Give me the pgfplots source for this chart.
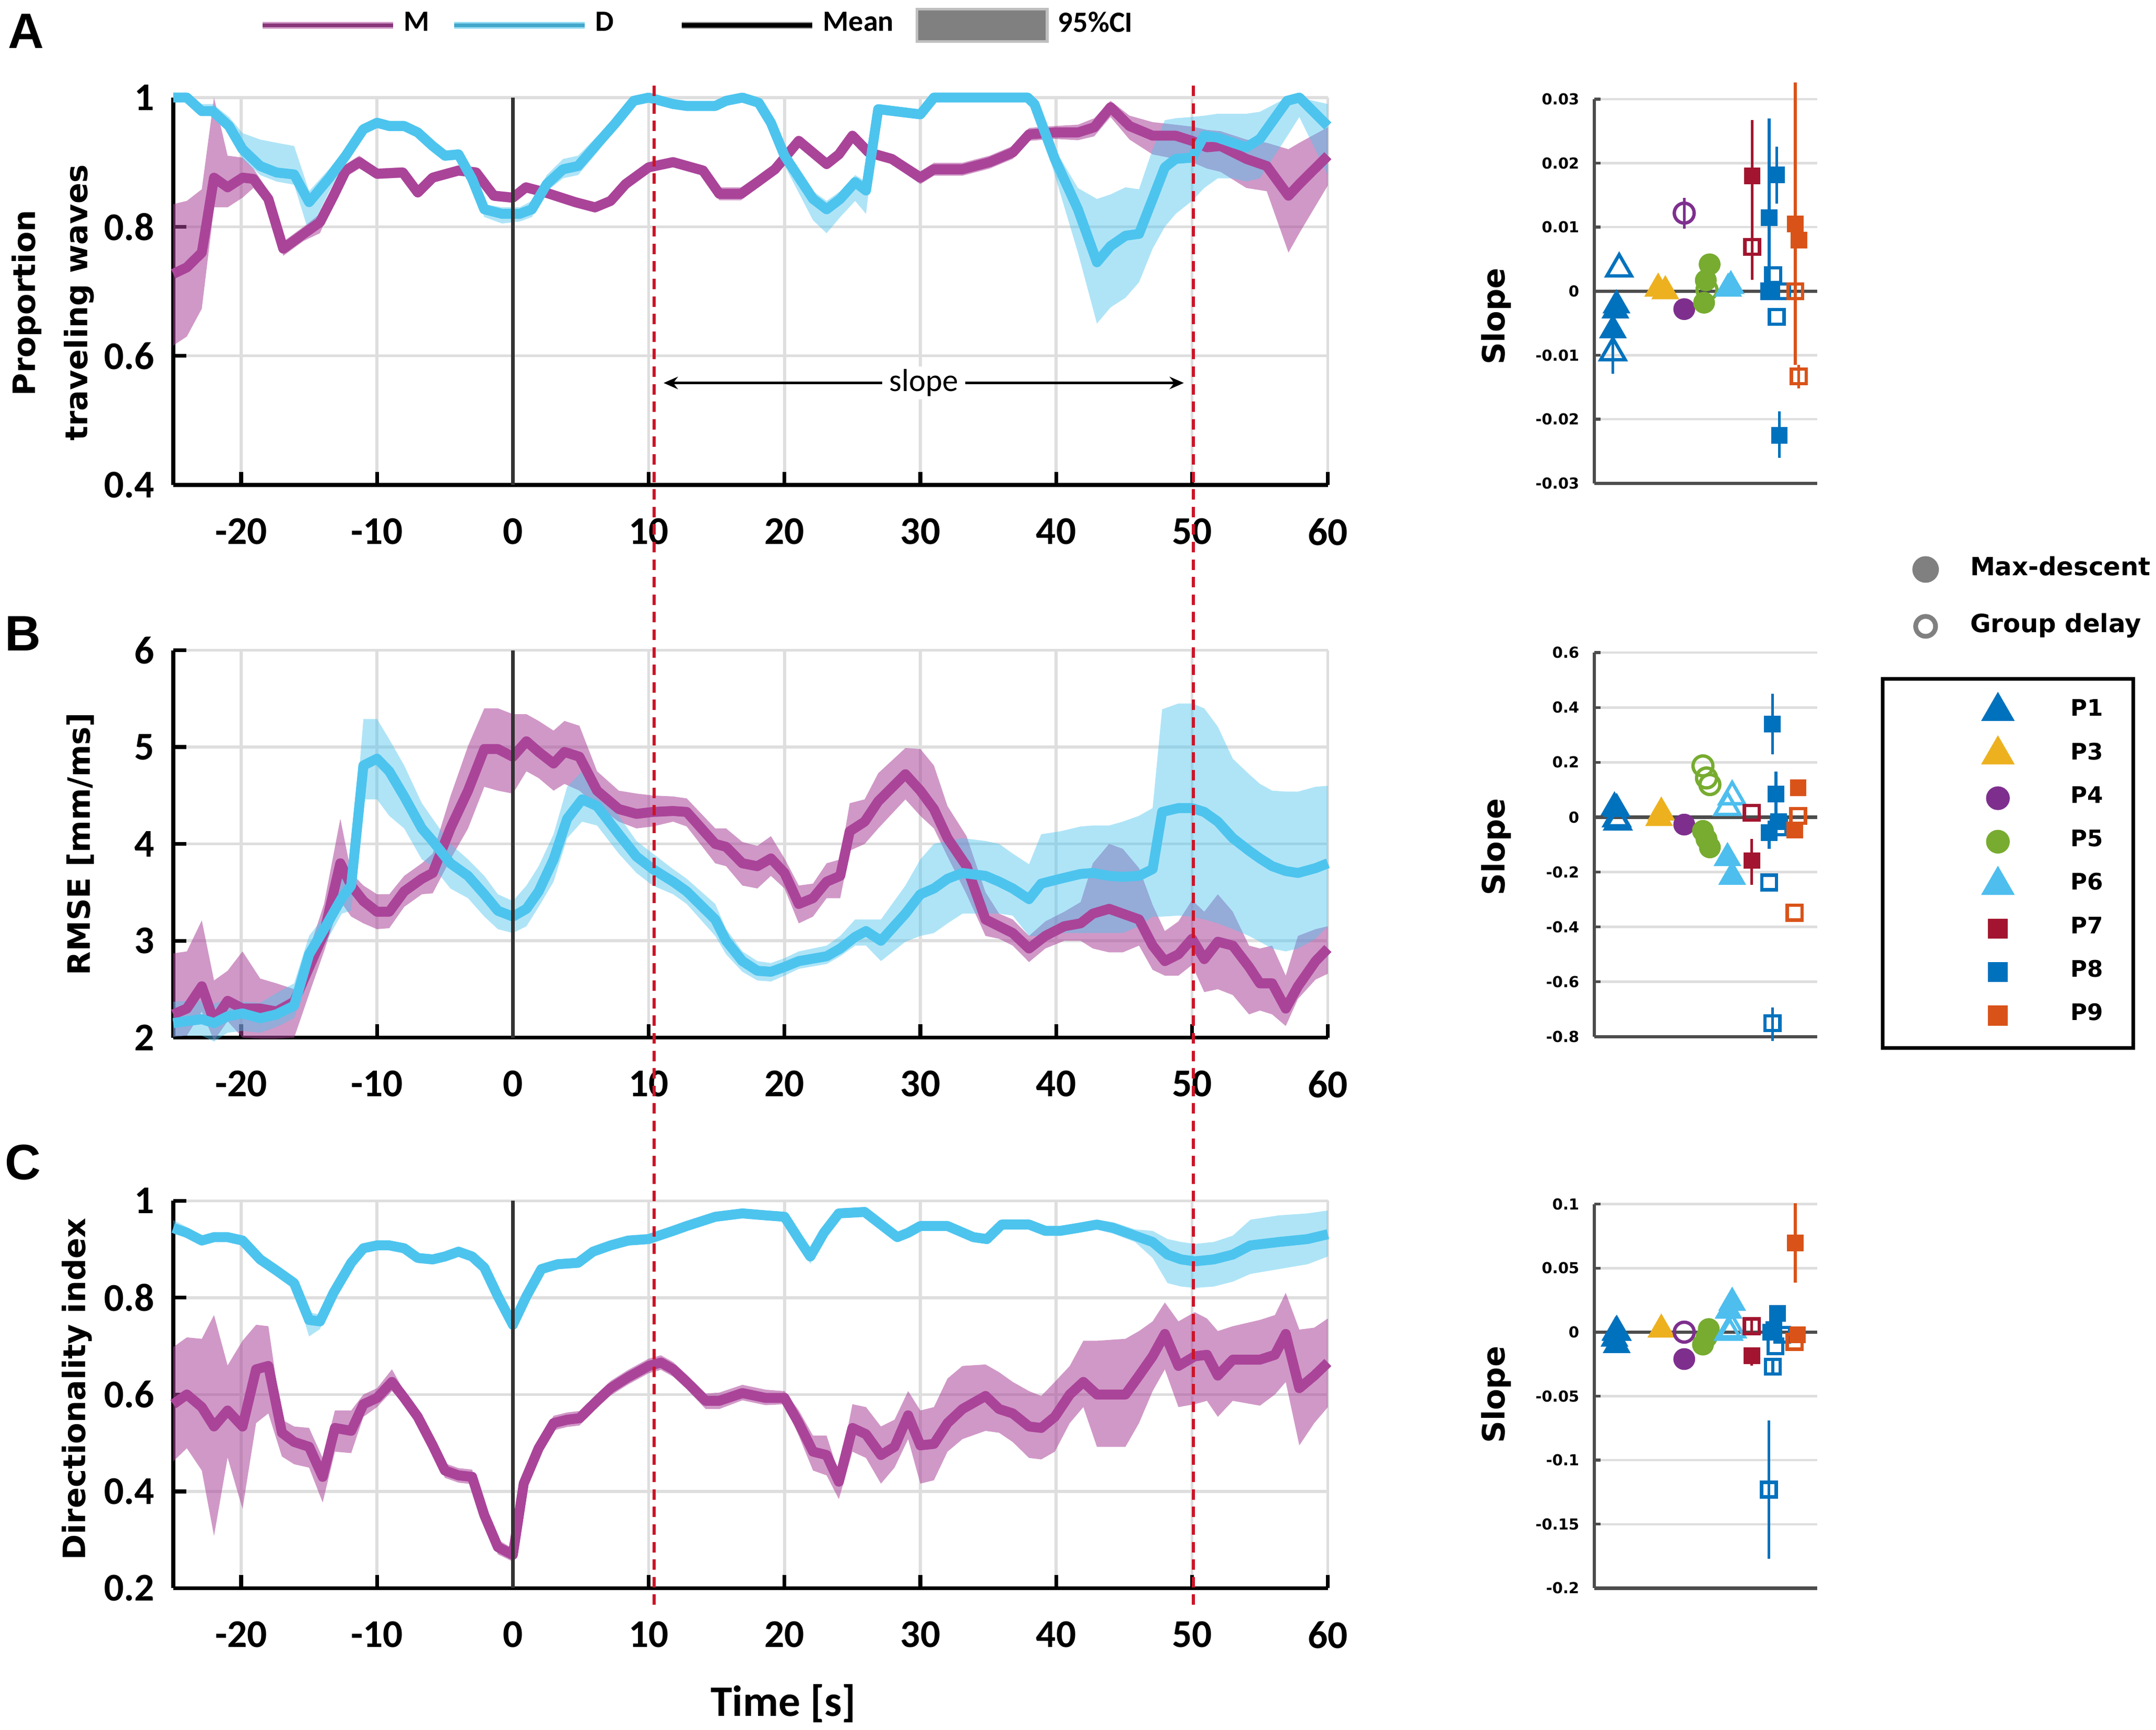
\documentclass[border=0pt]{standalone}
\usepackage{fontspec}
\setmainfont{Carlito}
\newfontfamily\dvs{DejaVu Sans}
\newfontfamily\lib{Liberation Sans}
\usepackage{pgfplots}
\usepackage{pgfplotstable}
\pgfplotsset{compat=1.18}
\usepgfplotslibrary{fillbetween}
\usetikzlibrary{arrows.meta}

\definecolor{Mc}{RGB}{170,68,153}
\definecolor{Dc}{RGB}{77,196,238}
\definecolor{Pone}{RGB}{0,114,189}
\definecolor{Pthree}{RGB}{237,177,32}
\definecolor{Pfour}{RGB}{126,47,142}
\definecolor{Pfive}{RGB}{119,172,48}
\definecolor{Psix}{RGB}{77,190,238}
\definecolor{Pseven}{RGB}{162,20,47}
\definecolor{Peight}{RGB}{0,114,189}
\definecolor{Pnine}{RGB}{217,83,25}
\definecolor{redline}{RGB}{204,20,40}
\definecolor{gridc}{RGB}{222,222,222}
\definecolor{cigray}{RGB}{128,128,128}

% ---------- panel A: proportion traveling waves ----------
\pgfplotstableread{
t v lo hi
-25 0.727 0.616 0.835
-24 0.737 0.630 0.840
-22.9 0.760 0.673 0.858
-22 0.876 0.830 1.000
-21 0.861 0.830 0.910
-19.9 0.876 0.845 0.907
-19.1 0.874 0.860 0.890
-18 0.843 0.832 0.855
-16.9 0.766 0.755 0.777
-15.4 0.789 0.778 0.800
-14.2 0.807 0.790 0.820
-13.2 0.848 0.838 0.860
-12.3 0.887 0.877 0.897
-11.3 0.900 0.890 0.910
-10 0.882 0.874 0.890
-8.1 0.884 0.876 0.892
-7 0.853 0.845 0.861
-5.9 0.876 0.868 0.884
-4 0.887 0.879 0.895
-2.7 0.884 0.876 0.892
-1.4 0.848 0.840 0.856
0 0.845 0.837 0.853
0.96 0.861 0.853 0.869
2.4 0.853 0.845 0.861
4.6 0.838 0.830 0.846
6.05 0.830 0.822 0.838
7.2 0.840 0.832 0.848
8.3 0.866 0.858 0.874
10 0.892 0.884 0.900
11.8 0.900 0.892 0.908
14 0.887 0.879 0.895
15.2 0.851 0.841 0.861
16.8 0.851 0.841 0.861
18 0.869 0.860 0.878
19.3 0.889 0.880 0.898
21.05 0.933 0.925 0.941
23.1 0.897 0.889 0.905
24 0.912 0.904 0.920
25 0.941 0.933 0.949
26.2 0.915 0.907 0.923
27.9 0.905 0.897 0.913
30 0.876 0.866 0.886
31 0.889 0.879 0.899
33.1 0.889 0.879 0.899
35.1 0.900 0.890 0.910
36.8 0.915 0.905 0.925
38 0.943 0.933 0.953
39.9 0.946 0.936 0.956
41.6 0.946 0.934 0.958
42.8 0.954 0.940 0.968
44 0.985 0.970 0.995
45.4 0.956 0.935 0.972
47.1 0.941 0.912 0.962
48.8 0.941 0.905 0.958
50 0.933 0.900 0.955
51.1 0.923 0.890 0.950
52.1 0.925 0.885 0.948
54 0.905 0.860 0.935
55.5 0.894 0.855 0.930
57.1 0.848 0.760 0.920
57.9 0.866 0.790 0.930
60 0.910 0.864 0.954
}\AM

\pgfplotstableread{
t v lo hi
-25 1.000 0.994 1.000
-24 1.000 0.994 1.000
-22.9 0.979 0.972 0.990
-22.1 0.979 0.972 0.990
-20.9 0.956 0.945 0.970
-19.9 0.920 0.905 0.945
-18.6 0.894 0.880 0.935
-17.4 0.884 0.870 0.930
-16.1 0.881 0.865 0.925
-15 0.838 0.790 0.855
-13.5 0.876 0.855 0.890
-12.3 0.910 0.900 0.922
-11 0.951 0.943 0.959
-10 0.961 0.953 0.969
-9.1 0.956 0.948 0.964
-8 0.956 0.948 0.964
-7 0.946 0.938 0.954
-5.9 0.925 0.917 0.933
-5 0.910 0.902 0.918
-4 0.912 0.904 0.920
-3 0.874 0.866 0.882
-2.1 0.827 0.815 0.835
-0.8 0.820 0.805 0.830
0.5 0.820 0.808 0.830
1.4 0.827 0.815 0.840
2.5 0.866 0.855 0.880
3.7 0.889 0.875 0.905
4.8 0.894 0.880 0.910
6.2 0.928 0.915 0.940
7.5 0.959 0.950 0.968
8.9 0.995 0.990 1.000
10 1.000 0.995 1.000
11.8 0.990 0.984 0.996
12.8 0.987 0.981 0.993
14.9 0.987 0.981 0.993
15.7 0.995 0.989 1.000
16.9 1.000 0.994 1.000
18.1 0.992 0.986 0.998
19 0.961 0.953 0.969
20 0.910 0.895 0.920
22.1 0.843 0.810 0.855
23.1 0.827 0.790 0.840
24.1 0.843 0.815 0.855
25.2 0.869 0.840 0.880
26 0.856 0.820 0.870
26.9 0.982 0.975 0.990
30 0.974 0.967 0.981
31 1.000 0.994 1.000
37.9 1.000 0.994 1.000
38.4 0.990 0.984 0.996
39.9 0.905 0.880 0.920
41.6 0.827 0.760 0.860
43 0.745 0.650 0.843
44 0.770 0.675 0.850
45.1 0.786 0.690 0.861
46.1 0.789 0.714 0.858
47.1 0.843 0.766 0.920
48 0.892 0.800 0.965
48.8 0.905 0.820 0.968
50 0.907 0.840 0.970
50.9 0.941 0.860 0.972
51.9 0.938 0.875 0.975
53 0.930 0.875 0.975
54 0.923 0.870 0.975
55 0.936 0.875 0.978
57 0.995 0.940 1.000
57.9 1.000 0.970 1.000
60 0.956 0.880 0.990
}\AD

% ---------- panel B: RMSE ----------
\pgfplotstableread{
t v lo hi
-25 2.24 2.01 2.87
-24 2.30 2.02 2.89
-22.9 2.53 2.27 3.21
-22 2.17 1.97 2.59
-21 2.38 2.17 2.69
-19.9 2.30 2.00 2.89
-18.6 2.30 1.99 2.61
-17.4 2.27 1.99 2.56
-16.1 2.37 2.00 2.50
-14.8 2.79 2.53 2.99
-13.9 3.08 2.89 3.38
-12.7 3.80 3.41 4.26
-11.9 3.57 3.25 3.70
-11 3.41 3.18 3.57
-10 3.30 3.12 3.48
-9.1 3.30 3.13 3.48
-8 3.51 3.35 3.67
-6.7 3.64 3.48 3.80
-5.9 3.70 3.49 3.90
-4.6 4.16 3.84 4.49
-3.3 4.55 4.16 5.01
-2.1 4.98 4.59 5.40
-1.1 4.98 4.55 5.40
0 4.90 4.52 5.34
1 5.06 4.75 5.34
1.9 4.95 4.68 5.27
3 4.83 4.55 5.17
3.8 4.95 4.62 5.27
4.9 4.90 4.55 5.22
6.2 4.55 4.39 4.75
7.8 4.36 4.23 4.55
9.1 4.31 4.16 4.52
10.3 4.33 4.18 4.50
11.8 4.34 4.23 4.49
12.8 4.33 4.18 4.47
14.9 4.00 3.80 4.16
15.7 3.97 3.77 4.16
16.9 3.80 3.57 4.02
18 3.77 3.54 3.98
19 3.85 3.67 4.08
20 3.70 3.54 3.85
21.05 3.38 3.18 3.57
22.1 3.44 3.25 3.59
23.1 3.61 3.44 3.80
24.1 3.67 3.44 3.84
24.8 4.13 3.93 4.42
25.9 4.23 4.00 4.46
26.9 4.44 4.16 4.73
28.9 4.72 4.46 4.99
30 4.55 4.29 4.98
31 4.36 4.16 4.81
32 4.06 3.87 4.39
33.4 3.77 3.48 4.08
34.8 3.22 3.05 3.50
35.8 3.15 3.02 3.28
36.8 3.08 2.95 3.22
38 2.92 2.78 3.05
39.2 3.05 2.92 3.20
40.6 3.15 3.00 3.30
41.8 3.18 3.00 3.40
42.7 3.28 2.92 3.80
43.9 3.33 2.88 4.00
44.9 3.28 2.88 3.95
46.1 3.22 2.95 3.75
47.1 2.95 2.70 3.37
48 2.79 2.64 3.10
49 2.86 2.64 3.20
50 3.02 2.75 3.42
50.9 2.81 2.47 3.30
51.9 2.99 2.50 3.48
53 2.95 2.44 3.30
54.2 2.73 2.24 2.95
55 2.56 2.28 2.92
55.9 2.56 2.24 2.95
56.9 2.30 2.12 2.64
57.8 2.53 2.40 3.05
59.1 2.79 2.60 3.12
60 2.92 2.66 3.15
}\BM

\pgfplotstableread{
t v lo hi
-25 2.15 2.01 2.37
-24 2.17 2.02 2.38
-22.9 2.19 2.02 2.38
-22 2.15 1.96 2.35
-21 2.22 2.05 2.40
-19.9 2.25 2.07 2.37
-18.6 2.20 2.05 2.36
-17.4 2.24 2.11 2.46
-16.1 2.33 2.20 2.56
-15 2.86 2.66 3.05
-13.9 3.12 2.95 3.25
-12.6 3.44 3.28 3.67
-11.9 3.57 3.31 3.74
-11 4.81 4.46 5.29
-10 4.88 4.46 5.29
-9.1 4.75 4.29 5.08
-8 4.49 4.16 4.81
-6.7 4.16 3.84 4.42
-5.9 4.03 3.77 4.26
-4.6 3.80 3.54 4.00
-3.3 3.67 3.44 3.84
-2.1 3.48 3.25 3.67
-1.1 3.31 3.12 3.48
0 3.25 3.08 3.41
1 3.33 3.15 3.57
1.9 3.51 3.35 3.77
3 3.84 3.61 4.10
4 4.26 4.06 4.59
5.1 4.46 4.23 4.75
6.2 4.39 4.19 4.65
7.8 4.10 3.90 4.29
9.1 3.87 3.70 4.03
10.3 3.74 3.57 3.90
11.8 3.61 3.48 3.74
12.8 3.51 3.38 3.64
14.9 3.22 3.05 3.38
15.7 3.00 2.86 3.12
16.9 2.79 2.68 2.89
18 2.69 2.59 2.79
19 2.68 2.58 2.77
20 2.73 2.64 2.82
21.05 2.79 2.71 2.89
23.1 2.84 2.76 2.95
24.1 2.92 2.84 3.05
25.2 3.04 2.95 3.22
26 3.10 2.95 3.22
27.1 3.00 2.79 3.22
28.9 3.28 2.99 3.57
30 3.48 3.05 3.84
31 3.54 3.08 4.00
32 3.64 3.18 4.03
33.1 3.70 3.28 4.06
34.8 3.67 3.28 4.03
35.8 3.61 3.28 4.00
36.8 3.54 3.26 3.90
38 3.43 3.05 3.79
38.9 3.59 3.05 4.10
40.3 3.64 3.08 4.13
41.8 3.69 3.08 4.18
42.7 3.70 3.08 4.19
43.9 3.67 3.08 4.19
44.9 3.66 3.08 4.23
46.1 3.67 3.15 4.29
47.1 3.74 3.25 4.37
47.8 4.33 3.25 5.39
49 4.37 3.26 5.45
50 4.37 3.25 5.45
50.9 4.33 3.22 5.40
51.9 4.23 3.18 5.21
53 4.06 3.12 4.88
54.2 3.93 3.05 4.72
55 3.85 2.99 4.62
55.9 3.77 2.92 4.55
56.9 3.72 2.89 4.54
57.8 3.70 2.92 4.54
59.1 3.75 3.02 4.59
60 3.80 3.15 4.60
}\BD

% ---------- panel C: directionality index ----------
\pgfplotstableread{
t v lo hi
-25 0.580 0.462 0.698
-24 0.600 0.489 0.718
-22.9 0.574 0.443 0.715
-22 0.534 0.308 0.764
-21 0.567 0.470 0.660
-19.9 0.534 0.364 0.711
-18.9 0.652 0.541 0.744
-18 0.659 0.561 0.741
-17 0.521 0.472 0.548
-16.1 0.502 0.456 0.534
-15 0.492 0.449 0.531
-14 0.430 0.377 0.469
-13.1 0.531 0.482 0.567
-11.9 0.525 0.479 0.567
-11 0.580 0.554 0.600
-10 0.593 0.574 0.613
-8.9 0.626 0.607 0.652
-8 0.593 0.580 0.607
-7 0.554 0.539 0.569
-5.9 0.495 0.480 0.510
-5 0.443 0.428 0.458
-4 0.433 0.418 0.448
-3 0.430 0.415 0.445
-2.1 0.351 0.336 0.366
-1.1 0.285 0.270 0.300
0 0.269 0.255 0.282
0.8 0.416 0.401 0.431
1.9 0.489 0.474 0.504
3 0.541 0.526 0.556
4 0.548 0.533 0.563
4.9 0.551 0.536 0.566
6.2 0.587 0.572 0.602
7.2 0.613 0.598 0.628
8.5 0.636 0.621 0.651
10 0.659 0.644 0.674
10.9 0.666 0.651 0.681
11.8 0.652 0.637 0.667
12.8 0.626 0.611 0.641
14.2 0.587 0.570 0.602
15.2 0.587 0.570 0.604
16.9 0.603 0.588 0.620
18.6 0.593 0.578 0.610
20 0.593 0.580 0.607
21.05 0.541 0.515 0.567
22.1 0.482 0.443 0.515
23.1 0.475 0.433 0.515
24 0.420 0.384 0.436
25 0.531 0.482 0.580
26 0.518 0.469 0.574
27.1 0.475 0.416 0.534
28.1 0.492 0.449 0.548
29.1 0.557 0.508 0.607
30 0.495 0.416 0.567
31 0.498 0.423 0.574
32 0.541 0.482 0.633
33.1 0.570 0.508 0.659
34.8 0.597 0.525 0.662
35.8 0.570 0.521 0.646
36.8 0.561 0.502 0.626
38 0.534 0.469 0.607
38.9 0.531 0.466 0.597
39.9 0.554 0.482 0.626
41 0.600 0.541 0.659
42 0.626 0.574 0.711
43 0.600 0.492 0.711
45.1 0.600 0.492 0.715
46.1 0.639 0.541 0.731
47.1 0.679 0.607 0.751
48 0.725 0.652 0.790
49 0.659 0.574 0.751
50.2 0.679 0.580 0.770
51.1 0.682 0.587 0.757
51.9 0.639 0.554 0.731
53 0.672 0.587 0.741
55 0.672 0.577 0.754
56.1 0.682 0.600 0.764
56.9 0.725 0.626 0.810
57.9 0.613 0.495 0.734
59 0.639 0.541 0.738
60 0.666 0.574 0.757
}\CM

\pgfplotstableread{
t v lo hi
-25 0.944 0.932 0.960
-24 0.934 0.924 0.946
-22.9 0.918 0.908 0.928
-22 0.925 0.915 0.935
-21 0.925 0.915 0.935
-19.9 0.918 0.908 0.928
-18.6 0.879 0.869 0.889
-17.4 0.856 0.846 0.866
-16.1 0.830 0.820 0.842
-15 0.754 0.720 0.770
-14.2 0.751 0.735 0.765
-13.2 0.810 0.800 0.820
-11.9 0.872 0.862 0.882
-11 0.902 0.892 0.912
-10 0.908 0.898 0.918
-9.1 0.908 0.898 0.918
-8 0.902 0.892 0.912
-7 0.882 0.872 0.892
-5.9 0.879 0.869 0.889
-5 0.885 0.875 0.895
-4 0.895 0.885 0.905
-3 0.885 0.875 0.895
-2.1 0.862 0.852 0.872
-1.1 0.803 0.793 0.813
0 0.744 0.730 0.756
1 0.803 0.793 0.813
2.1 0.859 0.849 0.869
3.3 0.869 0.859 0.879
4.8 0.872 0.862 0.882
5.9 0.895 0.885 0.905
7.2 0.908 0.898 0.918
8.5 0.918 0.908 0.928
10 0.921 0.911 0.931
11.8 0.938 0.928 0.948
12.8 0.948 0.938 0.958
14.9 0.967 0.957 0.977
16.9 0.974 0.964 0.984
18.6 0.970 0.960 0.980
20 0.967 0.957 0.977
21.05 0.921 0.911 0.931
21.9 0.885 0.870 0.895
22.9 0.934 0.924 0.944
24 0.974 0.964 0.984
25.9 0.977 0.967 0.987
27.1 0.951 0.941 0.961
28.3 0.925 0.915 0.935
29.1 0.934 0.924 0.944
30 0.948 0.938 0.958
32 0.948 0.938 0.958
33.9 0.925 0.915 0.935
34.9 0.921 0.911 0.931
36 0.951 0.941 0.961
38 0.951 0.941 0.961
39.2 0.938 0.928 0.948
40.3 0.938 0.928 0.948
41.6 0.944 0.934 0.954
43 0.951 0.941 0.961
44.2 0.944 0.932 0.956
45.8 0.928 0.915 0.941
47.1 0.915 0.882 0.938
48.2 0.889 0.830 0.921
49.2 0.879 0.823 0.915
50.2 0.875 0.820 0.911
51.6 0.879 0.823 0.915
53 0.889 0.833 0.928
54.3 0.908 0.849 0.961
56.4 0.915 0.859 0.970
58.5 0.921 0.869 0.974
60 0.931 0.885 0.980
}\CD

\pgfplotsset{
  mainax/.style={
    scale only axis, width=243.5pt, height=81.7pt, anchor=south west,
    xmin=-25, xmax=60, clip=false,
    axis x line*=bottom, axis y line*=left,
    axis line style={black, line width=0.8pt},
    xtick={-20,-10,0,10,20,30,40,50,60},
    xticklabels={-20,-10,0,10,20,30,40,50,60},
    grid=major, major grid style={gridc, line width=0.6pt},
    tick align=inside, major tick length=2.8pt,
    tick style={black, line width=0.8pt},
    tick label style={font=\bfseries\fontsize{8.3}{9}\selectfont, inner sep=0pt},
    xticklabel style={yshift=-6.8pt},
    yticklabel style={xshift=-3.8pt},
    ylabel style={font=\dvs\bfseries\fontsize{6.5}{11}\selectfont, align=center, anchor=center},
  },
  slopeax/.style={
    scale only axis, width=47pt, height=81pt, anchor=south west,
    xmin=0, xmax=1, clip=false, scaled y ticks=false,
    axis x line*=bottom, axis y line*=left,
    axis line style={black!70, line width=0.7pt},
    xtick=\empty,
    ymajorgrids, major grid style={gridc, line width=0.5pt},
    tick align=inside, major tick length=1.3pt,
    tick style={black!70, line width=0.6pt},
    tick label style={font=\dvs\bfseries\fontsize{3.2}{4}\selectfont, inner sep=0pt},
    yticklabel style={xshift=-3pt},
    ylabel={Slope},
    ylabel style={font=\dvs\bfseries\fontsize{6.5}{8}\selectfont, anchor=center},
  },
  fm/.style n args={3}{only marks, forget plot, color=#1, mark=#2, mark size=#3,
    mark options={solid, fill=#1, draw=#1},
    error bars/y dir=both, error bars/y explicit, error bars/error mark=none,
    error bars/error bar style={#1, line width=0.6pt}},
  om/.style n args={3}{only marks, forget plot, color=#1, mark=#2, mark size=#3,
    mark options={solid, draw=#1, fill=none, line width=0.7pt},
    error bars/y dir=both, error bars/y explicit, error bars/error mark=none,
    error bars/error bar style={#1, line width=0.6pt}},
}

\newcommand\curves[3]{% #1 M table, #2 D table, #3 prefix
  \addplot[name path=#3mh, draw=none, forget plot] table[x=t, y=hi] {#1};
  \addplot[name path=#3ml, draw=none, forget plot] table[x=t, y=lo] {#1};
  \addplot[fill=Mc, fill opacity=0.55, draw=none, forget plot] fill between[of=#3mh and #3ml];
  \addplot[Mc, line width=2.1pt, line join=round, forget plot] table[x=t, y=v] {#1};
  \addplot[name path=#3dh, draw=none, forget plot] table[x=t, y=hi] {#2};
  \addplot[name path=#3dl, draw=none, forget plot] table[x=t, y=lo] {#2};
  \addplot[fill=Dc, fill opacity=0.45, draw=none, forget plot] fill between[of=#3dh and #3dl];
  \addplot[Dc, line width=2.1pt, line join=round, forget plot] table[x=t, y=v] {#2};
}

\begin{document}
\begin{tikzpicture}

% ================= A =================
\begin{axis}[mainax, at={(36.54pt,-102.28pt)},
  ymin=0.4, ymax=1, ytick={0.4,0.6,0.8,1}, yticklabels={0.4,0.6,0.8,1},
  ylabel={Proportion\\traveling waves},
  ylabel style={at={(axis description cs:-0.1043,0.47)}},
  legend style={at={(axis description cs:0.0738,1.1865)}, anchor=west,
    draw=none, fill=none, inner sep=0pt, column sep=0pt, row sep=0pt,
    nodes={inner sep=0pt}, font=\bfseries\fontsize{6.2}{7}\selectfont},
  legend columns=-1, legend cell align=left]
\curves{\AM}{\AD}{a}
\draw[black!80, line width=0.75pt] (axis cs:0,0.4) -- (axis cs:0,1);
\draw[{Stealth[length=3pt,width=2.6pt]}-{Stealth[length=3pt,width=2.6pt]}, line width=0.6pt]
  (axis cs:11.1,0.558) -- (axis cs:49.4,0.558)
  node[midway, fill=white, inner xsep=1.5pt, inner ysep=0.6pt, font=\fontsize{6.7}{7}\selectfont] {slope};
\coordinate (ra1) at (axis cs:10.4,1);
\coordinate (ra2) at (axis cs:50.1,1);
\addlegendimage{legend image code/.code={\path[draw=none, fill=none] (0pt,-4pt) rectangle (29.8pt,4pt);
  \draw[Mc!55, line width=1.4pt] (0pt,0pt) -- (27.5pt,0pt);
  \draw[Mc!80!black, line width=0.7pt] (0pt,0pt) -- (27.5pt,0pt);}}
\addlegendentry{\makebox[9.9pt][l]{M}}
\addlegendimage{legend image code/.code={\path[draw=none, fill=none] (0pt,-4pt) rectangle (29.8pt,4pt);
  \draw[Dc!60, line width=1.4pt] (0pt,0pt) -- (27.5pt,0pt);
  \draw[Dc!85!black, line width=0.7pt] (0pt,0pt) -- (27.5pt,0pt);}}
\addlegendentry{\makebox[17.4pt][l]{D}}
\addlegendimage{legend image code/.code={\path[draw=none, fill=none] (0pt,-4pt) rectangle (29.8pt,4pt);
  \draw[black!40, line width=1.5pt] (0pt,0pt) -- (27.5pt,0pt);
  \draw[black, line width=1pt] (0pt,0pt) -- (27.5pt,0pt);}}
\addlegendentry{\makebox[19.5pt][l]{Mean}}
\addlegendimage{legend image code/.code={\path[draw=none, fill=none] (0pt,-4pt) rectangle (29.8pt,4pt);
  \filldraw[fill=cigray, draw=black!25, line width=0.6pt] (0pt,-3.4pt) rectangle (27.5pt,3.4pt);}}
\addlegendentry{95\%CI}
\end{axis}

% ================= B =================
\begin{axis}[mainax, at={(36.54pt,-218.83pt)},
  ymin=2, ymax=6, ytick={2,3,4,5,6}, yticklabels={2,3,4,5,6},
  ylabel={RMSE [mm/ms]},
  ylabel style={at={(axis description cs:-0.0806,0.5)}}]
\curves{\BM}{\BD}{b}
\draw[black!80, line width=0.75pt] (axis cs:0,2) -- (axis cs:0,6);
\end{axis}

% ================= C =================
\begin{axis}[mainax, at={(36.54pt,-334.95pt)},
  ymin=0.2, ymax=1, ytick={0.2,0.4,0.6,0.8,1}, yticklabels={0.2,0.4,0.6,0.8,1},
  ylabel={Directionality index},
  ylabel style={at={(axis description cs:-0.0834,0.514)}},
  xlabel={Time [s]},
  xlabel style={at={(axis description cs:0.5285,0)}, anchor=base, yshift=-27pt,
    font=\bfseries\fontsize{9.2}{10}\selectfont}]
\curves{\CM}{\CD}{c}
\draw[black!80, line width=0.75pt] (axis cs:0,0.2) -- (axis cs:0,1);
\coordinate (rc1) at (axis cs:10.4,0.2);
\coordinate (rc2) at (axis cs:50.1,0.2);
\end{axis}

% ================= slope A =================
\begin{axis}[slopeax, at={(336.26pt,-101.91pt)},
  ymin=-0.03, ymax=0.03,
  ytick={-0.03,-0.02,-0.01,0,0.01,0.02,0.03},
  yticklabels={-0.03,-0.02,-0.01,0,0.01,0.02,0.03},
  ylabel style={at={(axis description cs:-0.44,0.4345)}},
  legend style={at={(axis description cs:1.418,-0.148)}, anchor=north west,
    draw=none, fill=none, inner sep=0pt, row sep=0pt, column sep=0pt,
    nodes={inner sep=0pt}, font=\dvs\bfseries\fontsize{5.3}{6}\selectfont},
  legend cell align=left]
\addplot[forget plot, black!70, line width=0.7pt] coordinates {(0,0) (1,0)};
\addplot[fm={Pone}{triangle*}{3pt}] coordinates {(0.083,-0.0061) (0.094,-0.0030) (0.099,-0.0022)};
\addplot[om={Pone}{triangle}{3pt}] coordinates {(0.111,0.0035) (0.083,-0.0096) += (0,0.0019) -= (0,0.0033)};
\addplot[fm={Pthree}{triangle*}{3pt}] coordinates {(0.286,0.0004) (0.318,0.0)};
\addplot[fm={Pfour}{*}{2.1pt}] coordinates {(0.403,-0.0028)};
\addplot[om={Pfour}{o}{2.1pt}] coordinates {(0.403,0.0122) +- (0,0.0024)};
\addplot[fm={Pfive}{*}{2.1pt}] coordinates {(0.492,-0.0018) (0.500,0.0017) (0.517,0.0042)};
\addplot[om={Pfive}{o}{2.1pt}] coordinates {(0.505,0.0002)};
\addplot[fm={Psix}{triangle*}{3pt}] coordinates {(0.600,0.0004) (0.612,0.0008)};
\addplot[fm={Pseven}{square*}{1.55pt}] coordinates {(0.708,0.018) += (0,0.0087) -= (0,0.0162)};
\addplot[om={Pseven}{square}{1.55pt}] coordinates {(0.708,0.0069)};
\addplot[fm={Peight}{square*}{1.55pt}] coordinates {(0.784,0.0115) += (0,0.0155) -= (0,0.0115)
  (0.818,0.0182) += (0,0.0044) -= (0,0.0045) (0.830,-0.0225) += (0,0.0037) -= (0,0.0035) (0.795,0)};
\addplot[om={Peight}{square}{1.55pt}] coordinates {(0.802,0.0025) (0.784,0) (0.843,0) (0.818,-0.004)};
\addplot[fm={Pnine}{square*}{1.55pt}] coordinates {(0.901,0.0105) += (0,0.0221) -= (0,0.022) (0.917,0.008)};
\addplot[om={Pnine}{square}{1.55pt}] coordinates {(0.917,-0.0133) += (0,0.0018) -= (0,0.0019) (0.901,0)};
\addlegendimage{legend image code/.code={\path[draw=none, fill=none] (-3pt,-6pt) rectangle (9.4pt,6pt);
  \fill[cigray] (0pt,0pt) circle (2.6pt);}}
\addlegendentry{Max-descent}
\addlegendimage{legend image code/.code={\path[draw=none, fill=none] (-3pt,-6pt) rectangle (9.4pt,6pt);
  \draw[cigray, line width=1pt] (0pt,0pt) circle (2.1pt);}}
\addlegendentry{Group delay}
\end{axis}

% ================= slope B =================
\begin{axis}[slopeax, at={(336.26pt,-218.63pt)},
  ymin=-0.8, ymax=0.6,
  ytick={-0.8,-0.6,-0.4,-0.2,0,0.2,0.4,0.6},
  yticklabels={-0.8,-0.6,-0.4,-0.2,0,0.2,0.4,0.6},
  ylabel style={at={(axis description cs:-0.44,0.494)}},
  legend style={at={(axis description cs:1.285,0.936)}, anchor=north west,
    draw=black, line width=0.8pt, fill=white, inner xsep=0pt, inner ysep=2.2pt,
    row sep=0pt, column sep=0pt, nodes={inner sep=0pt},
    font=\dvs\bfseries\fontsize{4.8}{5}\selectfont},
  legend cell align=left]
\addplot[forget plot, black!70, line width=0.7pt] coordinates {(0,0) (1,0)};
\addplot[fm={Pone}{triangle*}{3pt}] coordinates {(0.090,0.036) (0.100,0.030)};
\addplot[om={Pone}{triangle}{3pt}] coordinates {(0.105,-0.017) (0.100,-0.005)};
\addplot[fm={Pthree}{triangle*}{3pt}] coordinates {(0.300,0.017) (0.290,-0.003)};
\addplot[fm={Pfour}{*}{2.1pt}] coordinates {(0.403,-0.027)};
\addplot[fm={Pfive}{*}{2.1pt}] coordinates {(0.487,-0.05) (0.503,-0.08) (0.518,-0.11)};
\addplot[om={Pfive}{o}{2.1pt}] coordinates {(0.487,0.187) (0.503,0.143) (0.518,0.119)};
\addplot[fm={Psix}{triangle*}{3pt}] coordinates {(0.597,-0.149) (0.618,-0.217)};
\addplot[om={Psix}{triangle}{3pt}] coordinates {(0.618,0.075) (0.597,0.036)};
\addplot[fm={Pseven}{square*}{1.55pt}] coordinates {(0.706,-0.158) += (0,0.078) -= (0,0.088)};
\addplot[om={Pseven}{square}{1.55pt}] coordinates {(0.706,0.016)};
\addplot[fm={Peight}{square*}{1.55pt}] coordinates {(0.799,0.339) += (0,0.11) -= (0,0.109)
  (0.815,0.085) += (0,0.082) -= (0,0.083) (0.784,-0.056) += (0,0.043) -= (0,0.059) (0.827,-0.017)};
\addplot[om={Peight}{square}{1.55pt}] coordinates {(0.784,-0.238) (0.799,-0.751) += (0,0.058) -= (0,0.064) (0.827,-0.037)};
\addplot[fm={Pnine}{square*}{1.55pt}] coordinates {(0.914,0.107) (0.898,-0.047)};
\addplot[om={Pnine}{square}{1.55pt}] coordinates {(0.914,0.005) (0.898,-0.348)};
\addlegendimage{legend image code/.code={\path[draw=none, fill=none] (-24.3pt,-4.585pt) rectangle (15.37pt,4.585pt);
  \draw[Pone, fill=Pone] plot[only marks, mark=triangle*, mark size=3.3pt] coordinates {(0pt,0pt)};}}
\addlegendentry{\makebox[13.2pt][l]{P1}}
\addlegendimage{legend image code/.code={\path[draw=none, fill=none] (-24.3pt,-4.585pt) rectangle (15.37pt,4.585pt);
  \draw[Pthree, fill=Pthree] plot[only marks, mark=triangle*, mark size=3.3pt] coordinates {(0pt,0pt)};}}
\addlegendentry{\makebox[13.2pt][l]{P3}}
\addlegendimage{legend image code/.code={\path[draw=none, fill=none] (-24.3pt,-4.585pt) rectangle (15.37pt,4.585pt);
  \draw[Pfour, fill=Pfour] plot[only marks, mark=*, mark size=2.1pt] coordinates {(0pt,0pt)};}}
\addlegendentry{\makebox[13.2pt][l]{P4}}
\addlegendimage{legend image code/.code={\path[draw=none, fill=none] (-24.3pt,-4.585pt) rectangle (15.37pt,4.585pt);
  \draw[Pfive, fill=Pfive] plot[only marks, mark=*, mark size=2.1pt] coordinates {(0pt,0pt)};}}
\addlegendentry{\makebox[13.2pt][l]{P5}}
\addlegendimage{legend image code/.code={\path[draw=none, fill=none] (-24.3pt,-4.585pt) rectangle (15.37pt,4.585pt);
  \draw[Psix, fill=Psix] plot[only marks, mark=triangle*, mark size=3.3pt] coordinates {(0pt,0pt)};}}
\addlegendentry{\makebox[13.2pt][l]{P6}}
\addlegendimage{legend image code/.code={\path[draw=none, fill=none] (-24.3pt,-4.585pt) rectangle (15.37pt,4.585pt);
  \draw[Pseven, fill=Pseven] plot[only marks, mark=square*, mark size=1.7pt] coordinates {(0pt,0pt)};}}
\addlegendentry{\makebox[13.2pt][l]{P7}}
\addlegendimage{legend image code/.code={\path[draw=none, fill=none] (-24.3pt,-4.585pt) rectangle (15.37pt,4.585pt);
  \draw[Peight, fill=Peight] plot[only marks, mark=square*, mark size=1.7pt] coordinates {(0pt,0pt)};}}
\addlegendentry{\makebox[13.2pt][l]{P8}}
\addlegendimage{legend image code/.code={\path[draw=none, fill=none] (-24.3pt,-4.585pt) rectangle (15.37pt,4.585pt);
  \draw[Pnine, fill=Pnine] plot[only marks, mark=square*, mark size=1.7pt] coordinates {(0pt,0pt)};}}
\addlegendentry{\makebox[13.2pt][l]{P9}}
\end{axis}

% ================= slope C =================
\begin{axis}[slopeax, at={(336.26pt,-334.95pt)},
  ymin=-0.2, ymax=0.1,
  ytick={-0.2,-0.15,-0.1,-0.05,0,0.05,0.1},
  yticklabels={-0.2,-0.15,-0.1,-0.05,0,0.05,0.1},
  ylabel style={at={(axis description cs:-0.44,0.504)}}]
\addplot[forget plot, black!70, line width=0.7pt] coordinates {(0,0) (1,0)};
\addplot[fm={Pone}{triangle*}{3pt}] coordinates {(0.090,-0.005) (0.100,-0.010) (0.095,0.000)};
\addplot[om={Pone}{triangle}{3pt}] coordinates {(0.100,0.000)};
\addplot[fm={Pthree}{triangle*}{3pt}] coordinates {(0.300,0.002)};
\addplot[fm={Pfour}{*}{2.1pt}] coordinates {(0.403,-0.021)};
\addplot[om={Pfour}{o}{2.1pt}] coordinates {(0.403,0.000)};
\addplot[fm={Pfive}{*}{2.1pt}] coordinates {(0.487,-0.0097) (0.503,-0.004) (0.513,0.0024)};
\addplot[fm={Psix}{triangle*}{3pt}] coordinates {(0.618,0.023) (0.602,0.0168)};
\addplot[om={Psix}{triangle}{3pt}] coordinates {(0.602,0.000) (0.618,0.002)};
\addplot[fm={Pseven}{square*}{1.55pt}] coordinates {(0.706,-0.0185) += (0,0.0065) -= (0,0.0075)};
\addplot[om={Pseven}{square}{1.55pt}] coordinates {(0.706,0.0046) +- (0,0.006)};
\addplot[fm={Peight}{square*}{1.55pt}] coordinates {(0.822,0.0146) (0.790,0.000) (0.806,0.002)};
\addplot[om={Peight}{square}{1.55pt}] coordinates {(0.812,-0.011) (0.800,-0.027) +- (0,0.007)
  (0.783,-0.123) +- (0,0.054) (0.843,-0.002)};
\addplot[fm={Pnine}{square*}{1.55pt}] coordinates {(0.901,0.0698) +- (0,0.031) (0.912,-0.002)};
\addplot[om={Pnine}{square}{1.55pt}] coordinates {(0.898,-0.0075)};
\end{axis}

% red dashed slope window across the three panels
\draw[redline, line width=0.7pt, dash pattern=on 2.2pt off 1.5pt]
  ([yshift=2.5pt]ra1) -- ([yshift=-4pt]rc1);
\draw[redline, line width=0.7pt, dash pattern=on 2.2pt off 1.5pt]
  ([yshift=2.5pt]ra2) -- ([yshift=-4pt]rc2);

% panel letters
\node[anchor=base west, inner sep=0pt, font=\lib\bfseries\fontsize{10.5}{12}\selectfont] at (1.5pt,-10.2pt) {A};
\node[anchor=base west, inner sep=0pt, font=\lib\bfseries\fontsize{10.5}{12}\selectfont] at (0.9pt,-137.2pt) {B};
\node[anchor=base west, inner sep=0pt, font=\lib\bfseries\fontsize{10.5}{12}\selectfont] at (0.9pt,-248.8pt) {C};

\pgfresetboundingbox
\path[use as bounding box] (0pt,0pt) rectangle (454.7pt,-364.8pt);
\end{tikzpicture}
\end{document}
